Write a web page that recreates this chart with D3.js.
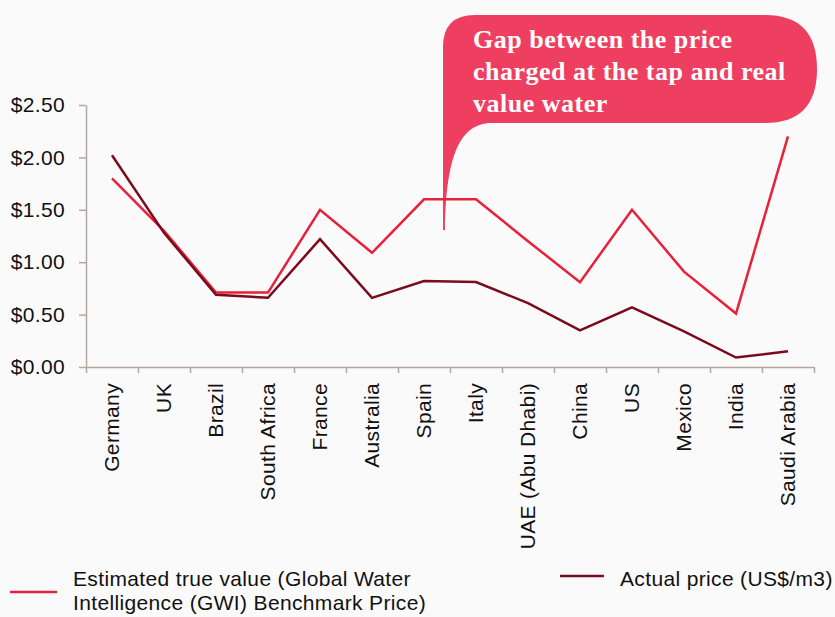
<!DOCTYPE html>
<html>
<head>
  <script src="https://cdnjs.cloudflare.com/ajax/libs/d3/7.8.5/d3.min.js"></script>
  <style>
    body { margin: 0; background: #fafafa; font-family: "Liberation Sans", Arial, sans-serif; }
    svg { display: block; }
  </style>
</head>
<body>
<div id="chart"></div>
<script>
// data
var countries = ["Germany", "UK", "Brazil", "South Africa", "France", "Australia", "Spain",
                 "Italy", "UAE (Abu Dhabi)", "China", "US", "Mexico", "India", "Saudi Arabia"];
var trueValue = [1.80, 1.30, 0.71, 0.71, 1.50, 1.09, 1.60, 1.60, 1.20, 0.81, 1.50, 0.91, 0.51, 2.20];
var actualPrice = [2.02, 1.28, 0.69, 0.66, 1.22, 0.66, 0.82, 0.81, 0.61, 0.35, 0.57, 0.34, 0.09, 0.15];
var yTicks = [0, 0.5, 1, 1.5, 2, 2.5];
var calloutLines = ["Gap between the price", "charged at the tap and real", "value water"];
var legendTrue = ["Estimated true value (Global Water", "Intelligence (GWI) Benchmark Price)"];
var legendActual = "Actual price (US$/m3)";

var width = 835, height = 617;
var red = "#e8213a", dark = "#7b0a1e", axisCol = "#b3a89e";
var fontSize = "21px", spacing = "0.35px";

var svg = d3.select("#chart").append("svg")
    .attr("width", width)
    .attr("height", height);

//----------------------------------------
// scales
var x = d3.scaleBand().domain(countries).range([86, 814]);
var xEdge = d3.scaleLinear().domain([0, countries.length]).range([86, 814]);
var y = d3.scaleLinear().domain([0, 2.5]).range([367, 105]);

//----------------------------------------
// callout bubble
var L = 443, T = 15, R = 817, B = 123, r1 = 32, r2 = 52;
var bubble = "M" + L + "," + (T + r1) +
    " Q" + L + "," + T + " " + (L + r1) + "," + T +
    " L" + (R - r2) + "," + T +
    " Q" + R + "," + T + " " + R + "," + (T + 54) +
    " Q" + R + "," + B + " " + (R - r2) + "," + B +
    " L492," + B +
    " C456," + B + " 446,165 445,230" +
    " L" + L + ",230 Z";
svg.append("path")
    .attr("d", bubble)
    .attr("fill", "#ef3f61");

svg.append("g").selectAll("text")
    .data(calloutLines)
    .enter().append("text")
    .attr("x", 473)
    .attr("y", function(d, i) { return 48 + i * 32; })
    .attr("fill", "#ffffff")
    .style("font-family", "'Liberation Serif', 'DejaVu Serif', serif")
    .style("font-weight", "bold")
    .style("font-size", "26px")
    .style("letter-spacing", "0.5px")
    .text(function(d) { return d; });

//----------------------------------------
// axes
var yAxis = svg.append("g")
    .attr("transform", "translate(86,0)")
    .call(d3.axisLeft(y).tickValues(yTicks).tickSize(7).tickPadding(14)
        .tickSizeOuter(0).tickFormat(d3.format("$.2f")));

var xAxis = svg.append("g")
    .attr("transform", "translate(0,367)")
    .call(d3.axisBottom(xEdge).tickValues(d3.range(countries.length + 1))
        .tickSize(6).tickSizeOuter(0).tickFormat(""));

[yAxis, xAxis].forEach(function(g) {
    g.selectAll("path, line").attr("stroke", axisCol).attr("stroke-width", 1.5);
    g.selectAll("text").attr("fill", "#111").style("font-size", fontSize)
        .style("letter-spacing", spacing)
        .style("font-family", "'Liberation Sans', Arial, sans-serif");
});

svg.append("g").selectAll("text")
    .data(countries)
    .enter().append("text")
    .attr("transform", function(d) {
        return "translate(" + (x(d) + x.bandwidth() / 2) + ",383) rotate(-90)";
    })
    .attr("dy", "0.35em")
    .attr("text-anchor", "end")
    .attr("fill", "#111")
    .style("font-size", fontSize)
    .style("letter-spacing", spacing)
    .text(function(d) { return d; });

//----------------------------------------
// lines
var line = d3.line()
    .x(function(d, i) { return x(countries[i]) + x.bandwidth() / 2; })
    .y(function(d) { return y(d); });

svg.append("path").datum(trueValue)
    .attr("d", line).attr("fill", "none")
    .attr("stroke", red).attr("stroke-width", 2.5);

svg.append("path").datum(actualPrice)
    .attr("d", line).attr("fill", "none")
    .attr("stroke", dark).attr("stroke-width", 2.5);

//----------------------------------------
// legend
svg.append("line")
    .attr("x1", 10).attr("x2", 57).attr("y1", 592).attr("y2", 592)
    .attr("stroke", red).attr("stroke-width", 2.5);
svg.append("g").selectAll("text")
    .data(legendTrue)
    .enter().append("text")
    .attr("x", 73)
    .attr("y", function(d, i) { return 586 + i * 24; })
    .attr("fill", "#111")
    .style("font-size", fontSize)
    .style("letter-spacing", spacing)
    .text(function(d) { return d; });

svg.append("line")
    .attr("x1", 560).attr("x2", 604).attr("y1", 576).attr("y2", 576)
    .attr("stroke", dark).attr("stroke-width", 2.5);
svg.append("text")
    .attr("x", 620).attr("y", 586)
    .attr("fill", "#111")
    .style("font-size", fontSize)
    .style("letter-spacing", spacing)
    .text(legendActual);
</script>
</body>
</html>
